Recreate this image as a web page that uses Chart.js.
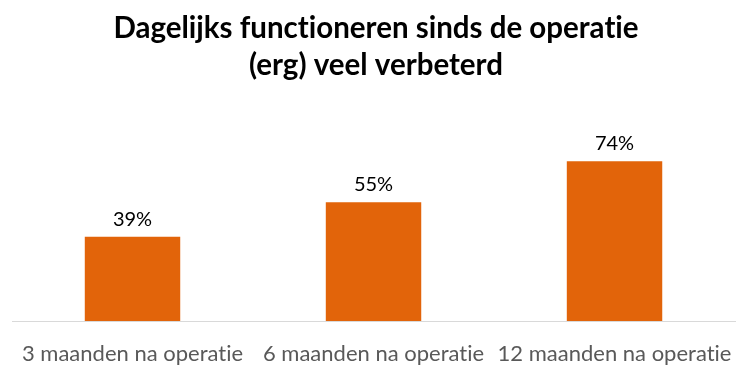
<!DOCTYPE html>
<html>
<head>
<meta charset="utf-8">
<script src="https://cdn.jsdelivr.net/npm/chart.js@4/dist/chart.umd.min.js"></script>
<style>
html,body{margin:0;padding:0;background:#fff;}
#wrap{width:754px;height:373px;position:relative;}
</style>
</head>
<body>
<div id="wrap"><canvas id="c" width="754" height="373"></canvas></div>
<script>
const categories = ["3 maanden na operatie", "6 maanden na operatie", "12 maanden na operatie"];
const values = [39, 55, 74];
const titleLines = ["Dagelijks functioneren sinds de operatie", "(erg) veel verbeterd"];
const FONT = "Lato, 'Liberation Sans', sans-serif";

const titlePlugin = {
  id: 'customTitle',
  beforeDraw(chart) {
    const ctx = chart.ctx;
    ctx.textRendering = 'optimizeSpeed';
    ctx.save();
    ctx.textRendering = 'optimizeSpeed';
    ctx.font = "bold 29.5px " + FONT;
    ctx.fillStyle = "#000";
    ctx.textAlign = "center";
    ctx.textBaseline = "alphabetic";
    ctx.fillText(titleLines[0], 376, 37.5);
    ctx.fillText(titleLines[1], 376, 75);
    ctx.restore();
  }
};

const labelPlugin = {
  id: 'barLabels',
  afterDatasetsDraw(chart) {
    const ctx = chart.ctx;
    const meta = chart.getDatasetMeta(0);
    ctx.save();
    ctx.textRendering = 'optimizeSpeed';
    ctx.font = "20px " + FONT;
    ctx.fillStyle = "#000";
    ctx.textAlign = "center";
    ctx.textBaseline = "alphabetic";
    meta.data.forEach((bar, i) => {
      ctx.fillText(values[i] + "%", bar.x, bar.y - 11);
    });
    ctx.restore();
  }
};

new Chart(document.getElementById('c'), {
  type: 'bar',
  data: {
    labels: categories,
    datasets: [{
      data: values,
      backgroundColor: '#E2640A',
      borderWidth: 0,
      categoryPercentage: 1,
      barPercentage: 0.396
    }]
  },
  options: {
    responsive: false,
    animation: false,
    layout: { padding: { left: 12, right: 14, top: 105, bottom: 6 } },
    plugins: {
      legend: { display: false },
      tooltip: { enabled: false },
      title: { display: false }
    },
    scales: {
      x: {
        grid: { display: false, drawTicks: false },
        border: { display: true, color: '#d9d9d9', width: 1 },
        ticks: { color: '#595959', font: { family: FONT, size: 22 }, padding: 20, maxRotation: 0, autoSkip: false },
        afterFit: (s) => { s.height = 46; }
      },
      y: {
        display: false,
        min: 0,
        max: 100
      }
    }
  },
  plugins: [titlePlugin, labelPlugin]
});
</script>
</body>
</html>
